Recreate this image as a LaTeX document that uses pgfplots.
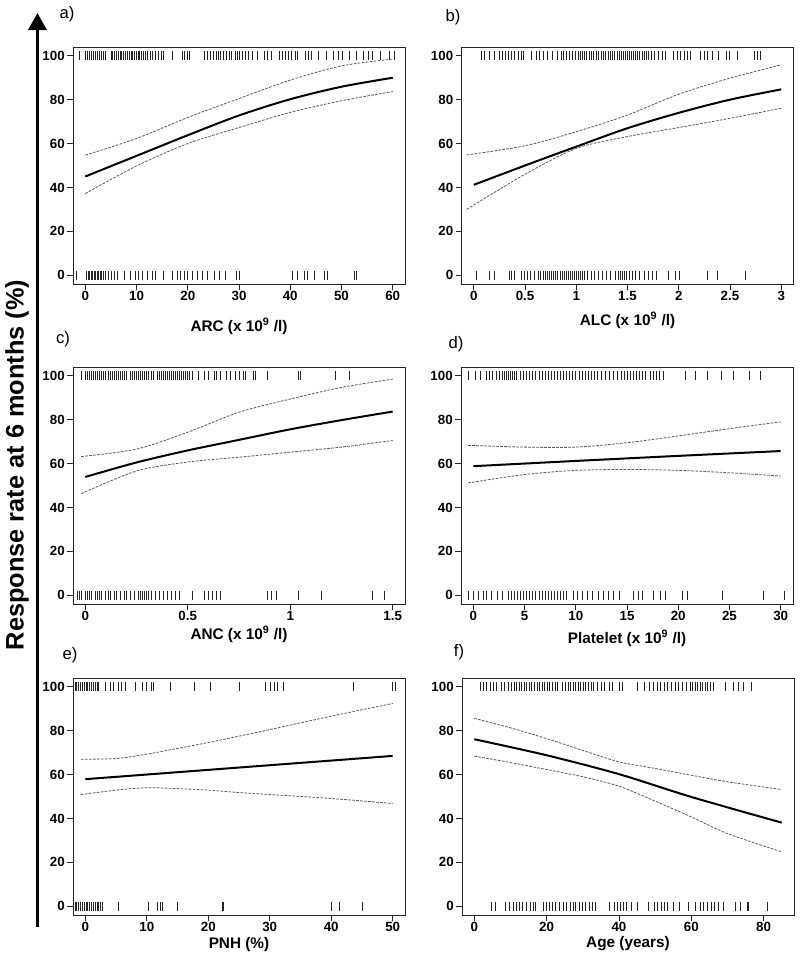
\documentclass[border=0pt]{standalone}
\usepackage{pgfplots}
\pgfplotsset{compat=1.18}
\usepackage{fontspec}
\setmainfont{Liberation Sans}
\usetikzlibrary{arrows.meta}
\pgfplotsset{
  panel/.style={
    scale only axis, width=249pt, height=177.75pt,
    anchor=north west,
    ymin=-4, ymax=104, ytick={0,20,...,100},
    tick align=outside, tick pos=left, major tick length=4.5pt,
    axis line style={line width=0.7pt, black!85},
    every tick/.style={black!85, line width=0.6pt},
    /pgf/number format/assume math mode=true,
    ticklabel style={font=\fontsize{10}{12}\selectfont\bfseries},
    xticklabel style={inner sep=1pt},
    yticklabel style={inner sep=1.5pt},
    xlabel style={font=\fontsize{11.5}{13}\selectfont\bfseries, at={(axis description cs:0.5,0)}, anchor=center, inner sep=0pt},
  },
  fit/.style={black, line width=1.5pt, smooth, no marks},
  ci/.style={black!65, line width=0.6pt, dash pattern=on 2pt off 1pt, smooth, no marks},
  rug/.style={only marks, mark=|, mark size=3.4pt, mark options={line width=0.5pt, black!85}},
}
\begin{document}
\begin{tikzpicture}
\useasboundingbox (0,0) rectangle (600pt,-718.5pt);
% ---------- a) ----------
\begin{axis}[panel, at={(54.75pt,-35.25pt)}, xmin=-2.4, xmax=62.4, xtick={0,10,...,60},
  xlabel={ARC (x 10\textsuperscript{9} /l)}, xlabel style={yshift=-31.5pt}]
\addplot[rug] coordinates {(-1.1,100)(0,100)(0.4,100)(0.8,100)(1.2,100)(1.5,100)(1.9,100)(2.3,100)(2.7,100)(3.1,100)(3.5,100)(3.9,100)(5.0,100)(5.3,100)(5.7,100)(6.0,100)(6.4,100)(6.8,100)(7.1,100)(7.5,100)(7.8,100)(8.2,100)(8.5,100)(8.9,100)(9.2,100)(9.6,100)(9.9,100)(10.3,100)(10.6,100)(11.0,100)(11.3,100)(11.7,100)(12.1,100)(12.6,100)(13.1,100)(13.7,100)(14.2,100)(14.8,100)(15.3,100)(16.9,100)(18.9,100)(19.4,100)(19.9,100)(20.4,100)(23.2,100)(23.9,100)(24.5,100)(25.0,100)(25.5,100)(26.0,100)(26.4,100)(26.9,100)(27.5,100)(28.1,100)(28.6,100)(29.2,100)(29.6,100)(30.1,100)(30.7,100)(31.3,100)(31.9,100)(32.6,100)(33.5,100)(35.0,100)(35.6,100)(36.3,100)(37.9,100)(38.5,100)(39.1,100)(39.6,100)(40.3,100)(40.9,100)(41.4,100)(43.0,100)(43.6,100)(44.2,100)(45.5,100)(47.0,100)(48.5,100)(49.3,100)(50.2,100)(51.5,100)(52.9,100)(54.3,100)(55.3,100)(56.1,100)(57.5,100)(59.3,100)(60.3,100)};
\addplot[rug] coordinates {(-1.8,0)(0.2,0)(0.5,0)(0.8,0)(1.1,0)(1.4,0)(1.7,0)(2.0,0)(2.3,0)(2.6,0)(2.9,0)(3.2,0)(3.6,0)(4.0,0)(4.5,0)(5.0,0)(5.6,0)(6.2,0)(7.7,0)(8.8,0)(9.8,0)(10.4,0)(11.1,0)(12.1,0)(13.1,0)(13.7,0)(15.3,0)(16.9,0)(17.9,0)(18.6,0)(19.3,0)(19.9,0)(20.9,0)(21.9,0)(22.8,0)(23.8,0)(25.1,0)(26.1,0)(27.4,0)(29.4,0)(30.0,0)(40.4,0)(41.4,0)(42.7,0)(43.4,0)(44.7,0)(46.6,0)(47.3,0)(52.5,0)(52.9,0)};
\addplot[ci] coordinates {(0,54.7)(10,62.3)(20,71.9)(30,80.5)(40,88.9)(50,95.4)(60,98.5)};
\addplot[ci] coordinates {(0,37.2)(10,49.8)(20,60)(30,67.3)(40,74.2)(50,79.5)(60,83.7)};
\addplot[fit] coordinates {(0,45)(10,54.4)(20,63.8)(30,72.8)(40,80.2)(50,85.9)(60,90)};
\end{axis}
% ---------- b) ----------
\begin{axis}[panel, at={(346.125pt,-35.25pt)}, xmin=-0.12, xmax=3.12, xtick={0,0.5,...,3},
  xlabel={ALC (x 10\textsuperscript{9} /l)}, xlabel style={yshift=-27pt}]
\addplot[rug] coordinates {(0.07,100)(0.10,100)(0.15,100)(0.2,100)(0.25,100)(0.28,100)(0.31,100)(0.34,100)(0.37,100)(0.40,100)(0.43,100)(0.46,100)(0.48,100)(0.56,100)(0.61,100)(0.64,100)(0.68,100)(0.72,100)(0.77,100)(0.82,100)(0.85,100)(0.87,100)(0.90,100)(0.93,100)(0.96,100)(0.99,100)(1.02,100)(1.04,100)(1.06,100)(1.08,100)(1.10,100)(1.13,100)(1.15,100)(1.17,100)(1.20,100)(1.22,100)(1.24,100)(1.26,100)(1.28,100)(1.31,100)(1.33,100)(1.35,100)(1.37,100)(1.40,100)(1.42,100)(1.44,100)(1.46,100)(1.48,100)(1.50,100)(1.52,100)(1.54,100)(1.56,100)(1.58,100)(1.60,100)(1.62,100)(1.64,100)(1.66,100)(1.68,100)(1.70,100)(1.73,100)(1.76,100)(1.80,100)(1.84,100)(1.87,100)(1.95,100)(1.99,100)(2.02,100)(2.05,100)(2.08,100)(2.11,100)(2.21,100)(2.25,100)(2.28,100)(2.33,100)(2.39,100)(2.46,100)(2.49,100)(2.57,100)(2.74,100)(2.77,100)(2.80,100)};
\addplot[rug] coordinates {(0.02,0)(0.15,0)(0.20,0)(0.35,0)(0.37,0)(0.40,0)(0.46,0)(0.49,0)(0.52,0)(0.55,0)(0.59,0)(0.63,0)(0.65,0)(0.68,0)(0.70,0)(0.72,0)(0.74,0)(0.76,0)(0.78,0)(0.80,0)(0.82,0)(0.84,0)(0.86,0)(0.88,0)(0.90,0)(0.92,0)(0.94,0)(0.96,0)(0.98,0)(1.00,0)(1.02,0)(1.04,0)(1.06,0)(1.08,0)(1.11,0)(1.15,0)(1.18,0)(1.22,0)(1.25,0)(1.29,0)(1.33,0)(1.38,0)(1.41,0)(1.43,0)(1.45,0)(1.47,0)(1.49,0)(1.52,0)(1.55,0)(1.58,0)(1.62,0)(1.66,0)(1.70,0)(1.74,0)(1.78,0)(1.90,0)(1.97,0)(2.01,0)(2.28,0)(2.38,0)(2.65,0)};
\addplot[ci] coordinates {(-0.07,54.8)(0.5,59)(1,65.4)(1.5,73)(2,82.5)(2.5,89.8)(3,95.9)};
\addplot[ci] coordinates {(-0.07,30)(0.5,46)(1,57.8)(1.5,63.2)(2,67.3)(2.5,71.5)(3,76.1)};
\addplot[fit] coordinates {(0,41.2)(0.5,50)(1,58.6)(1.5,67)(2,74)(2.5,80)(3,84.7)};
\end{axis}
% ---------- c) ----------
\begin{axis}[panel, at={(54.75pt,-275.25pt)}, xmin=-0.06, xmax=1.56, xtick={0,0.5,1,1.5},
  xlabel={ANC (x 10\textsuperscript{9} /l)}, xlabel style={yshift=-22.5pt}]
\addplot[rug] coordinates {(-0.02,100)(0.00,100)(0.01,100)(0.02,100)(0.03,100)(0.04,100)(0.05,100)(0.06,100)(0.07,100)(0.08,100)(0.09,100)(0.10,100)(0.11,100)(0.12,100)(0.13,100)(0.14,100)(0.15,100)(0.16,100)(0.17,100)(0.18,100)(0.19,100)(0.20,100)(0.22,100)(0.23,100)(0.24,100)(0.25,100)(0.26,100)(0.27,100)(0.28,100)(0.29,100)(0.30,100)(0.31,100)(0.32,100)(0.33,100)(0.35,100)(0.36,100)(0.37,100)(0.38,100)(0.39,100)(0.40,100)(0.41,100)(0.42,100)(0.43,100)(0.44,100)(0.45,100)(0.46,100)(0.47,100)(0.48,100)(0.49,100)(0.50,100)(0.51,100)(0.52,100)(0.55,100)(0.58,100)(0.60,100)(0.63,100)(0.64,100)(0.66,100)(0.69,100)(0.71,100)(0.73,100)(0.75,100)(0.77,100)(0.78,100)(0.82,100)(0.83,100)(0.89,100)(1.04,100)(1.05,100)(1.22,100)(1.29,100)};
\addplot[rug] coordinates {(-0.04,0)(-0.03,0)(-0.02,0)(0.00,0)(0.01,0)(0.02,0)(0.03,0)(0.05,0)(0.06,0)(0.07,0)(0.08,0)(0.10,0)(0.11,0)(0.12,0)(0.14,0)(0.15,0)(0.17,0)(0.19,0)(0.20,0)(0.22,0)(0.24,0)(0.26,0)(0.27,0)(0.28,0)(0.29,0)(0.30,0)(0.31,0)(0.32,0)(0.34,0)(0.36,0)(0.38,0)(0.40,0)(0.42,0)(0.44,0)(0.46,0)(0.52,0)(0.58,0)(0.60,0)(0.62,0)(0.64,0)(0.66,0)(0.89,0)(0.91,0)(0.93,0)(1.04,0)(1.15,0)(1.40,0)(1.46,0)};
\addplot[ci] coordinates {(-0.02,63.2)(0.25,66.6)(0.5,74.3)(0.75,83.4)(1,89.4)(1.25,94.7)(1.5,98.5)};
\addplot[ci] coordinates {(-0.02,46.3)(0.25,56.6)(0.5,60.7)(0.75,62.9)(1,65.2)(1.25,67.5)(1.5,70.5)};
\addplot[fit] coordinates {(0,53.9)(0.25,60.5)(0.5,66)(0.75,70.8)(1,75.6)(1.25,79.8)(1.5,83.7)};
\end{axis}
% ---------- d) ----------
\begin{axis}[panel, at={(345.75pt,-275.25pt)}, xmin=-1.2, xmax=31.2, xtick={0,5,...,30},
  xlabel={Platelet (x 10\textsuperscript{9} /l)}, xlabel style={yshift=-25.5pt}]
\addplot[rug] coordinates {(-0.5,100)(0.2,100)(0.7,100)(1.3,100)(1.6,100)(1.9,100)(2.2,100)(2.5,100)(2.8,100)(3.0,100)(3.2,100)(3.4,100)(3.6,100)(3.8,100)(4.0,100)(4.2,100)(4.6,100)(4.9,100)(5.2,100)(5.5,100)(5.8,100)(6.1,100)(6.4,100)(6.7,100)(7.0,100)(7.3,100)(7.6,100)(7.9,100)(8.2,100)(8.5,100)(8.8,100)(9.1,100)(9.4,100)(9.7,100)(10.0,100)(10.3,100)(10.6,100)(10.9,100)(11.2,100)(11.5,100)(11.8,100)(12.1,100)(12.5,100)(12.9,100)(13.3,100)(13.7,100)(14.1,100)(14.4,100)(14.7,100)(15.0,100)(15.3,100)(15.6,100)(15.9,100)(16.2,100)(16.5,100)(16.8,100)(17.3,100)(17.6,100)(17.9,100)(18.2,100)(18.5,100)(20.7,100)(21.7,100)(22.8,100)(24.2,100)(25.4,100)(26.9,100)(28.0,100)};
\addplot[rug] coordinates {(-0.5,0)(0.0,0)(0.5,0)(1.0,0)(1.3,0)(1.8,0)(2.3,0)(2.8,0)(3.4,0)(3.7,0)(4.0,0)(4.3,0)(4.6,0)(4.9,0)(5.2,0)(5.5,0)(5.8,0)(6.1,0)(6.4,0)(6.7,0)(7.0,0)(7.3,0)(7.6,0)(7.9,0)(8.2,0)(8.5,0)(8.8,0)(9.1,0)(9.8,0)(10.2,0)(10.6,0)(11.1,0)(11.6,0)(12.2,0)(12.7,0)(13.2,0)(13.7,0)(14.3,0)(15.6,0)(16.1,0)(16.5,0)(17.6,0)(18.3,0)(18.7,0)(20.4,0)(20.9,0)(24.3,0)(28.3,0)(30.4,0)};
\addplot[ci] coordinates {(-0.5,68.3)(5,67.5)(10,67.5)(15,69.5)(20,72.6)(25,75.9)(30,79)};
\addplot[ci] coordinates {(-0.5,51.2)(5,55)(10,56.9)(15,57.3)(20,56.9)(25,55.8)(30,54.3)};
\addplot[fit] coordinates {(0,58.8)(10,61.2)(20,63.5)(30,65.7)};
\end{axis}
% ---------- e) ----------
\begin{axis}[panel, at={(54.75pt,-508.5pt)}, xmin=-2, xmax=52, xtick={0,10,...,50},
  xlabel={PNH (\%)}, xlabel style={yshift=-22.5pt}]
\addplot[rug] coordinates {(-2.0,100)(-1.7,100)(-1.4,100)(-1.1,100)(-0.8,100)(-0.5,100)(-0.2,100)(0.1,100)(0.4,100)(0.7,100)(1.0,100)(1.3,100)(1.6,100)(1.9,100)(2.2,100)(3.3,100)(4.1,100)(4.6,100)(5.4,100)(5.9,100)(6.5,100)(8.2,100)(9.2,100)(10.0,100)(10.8,100)(11.1,100)(13.9,100)(17.7,100)(20.4,100)(25.1,100)(29.3,100)(30.1,100)(30.7,100)(31.2,100)(32.2,100)(43.6,100)(50.0,100)(50.5,100)};
\addplot[rug] coordinates {(-2.0,0)(-1.7,0)(-1.4,0)(-1.1,0)(-0.8,0)(-0.5,0)(-0.2,0)(0.1,0)(0.4,0)(0.7,0)(1.0,0)(1.3,0)(1.6,0)(1.9,0)(2.2,0)(2.4,0)(2.7,0)(5.3,0)(10.3,0)(11.7,0)(12.2,0)(12.6,0)(14.9,0)(22.3,0)(22.4,0)(40.0,0)(41.3,0)(45.0,0)};
\addplot[ci] coordinates {(-0.7,67)(5,67.3)(10,69.3)(15,71.9)(20,74.6)(25,77.5)(30,80.5)(40,86.6)(50,92.4)};
\addplot[ci] coordinates {(-0.7,50.9)(5,52.9)(10,54)(15,53.6)(20,52.9)(25,51.8)(30,50.9)(40,49.1)(50,46.8)};
\addplot[fit] coordinates {(0,57.9)(25,63.2)(50,68.5)};
\end{axis}
% ---------- f) ----------
\begin{axis}[panel, at={(346.5pt,-508.5pt)}, xmin=-3.4, xmax=88.4, xtick={0,20,...,80},
  xlabel={Age (years)}, xlabel style={yshift=-21.75pt}]
\addplot[rug] coordinates {(1.6,100)(2.5,100)(3.4,100)(4.3,100)(5.2,100)(6.0,100)(7.5,100)(8.2,100)(9.5,100)(10.3,100)(11.0,100)(11.7,100)(12.4,100)(13.1,100)(13.8,100)(14.5,100)(15.2,100)(15.9,100)(16.6,100)(17.3,100)(18.0,100)(18.7,100)(19.4,100)(20.1,100)(20.8,100)(21.5,100)(22.3,100)(23.0,100)(24.3,100)(25.2,100)(25.9,100)(26.6,100)(27.3,100)(28.0,100)(28.7,100)(29.4,100)(30.1,100)(30.8,100)(31.5,100)(32.3,100)(33.0,100)(34.0,100)(35.0,100)(36.0,100)(37.3,100)(38.2,100)(40.0,100)(41.0,100)(45.0,100)(47.0,100)(48.5,100)(49.5,100)(50.5,100)(51.5,100)(52.5,100)(53.5,100)(54.5,100)(55.5,100)(56.5,100)(57.5,100)(58.5,100)(59.6,100)(60.3,100)(61.0,100)(61.7,100)(62.4,100)(63.1,100)(63.8,100)(64.5,100)(65.2,100)(66.0,100)(69.3,100)(71.6,100)(73.0,100)(74.4,100)(76.7,100)};
\addplot[rug] coordinates {(4.6,0)(5.8,0)(8.5,0)(9.8,0)(10.8,0)(11.6,0)(12.4,0)(13.2,0)(14.3,0)(15.6,0)(16.3,0)(16.9,0)(19.2,0)(20.0,0)(20.8,0)(21.6,0)(22.4,0)(23.4,0)(24.6,0)(25.5,0)(26.5,0)(27.3,0)(28.0,0)(29.0,0)(29.8,0)(30.8,0)(31.7,0)(32.6,0)(33.6,0)(37.3,0)(38.7,0)(39.6,0)(40.3,0)(41.2,0)(42.0,0)(43.3,0)(45.2,0)(48.0,0)(49.8,0)(50.7,0)(51.6,0)(52.5,0)(53.3,0)(55.0,0)(56.8,0)(59.1,0)(61.0,0)(62.4,0)(63.3,0)(64.5,0)(65.6,0)(66.5,0)(67.5,0)(68.9,0)(72.1,0)(73.5,0)(75.4,0)(75.8,0)(80.9,0)};
\addplot[ci] coordinates {(0,85.6)(10,81.3)(20,76.4)(30,71)(40,65.8)(50,62.8)(60,59.7)(70,56.7)(85,53.2)};
\addplot[ci] coordinates {(0,68.4)(10,65.5)(20,62.3)(30,59)(40,54.7)(50,47.9)(60,40.7)(70,33.1)(85,24.8)};
\addplot[fit] coordinates {(0,76.1)(20,68.8)(40,60.2)(60,49.8)(85,38.1)};
\end{axis}
% ---------- panel letters ----------
\node[font=\fontsize{12.5}{15}\selectfont] at (50.25pt,-10.5pt) {a)};
\node[font=\fontsize{12.5}{15}\selectfont] at (339.75pt,-12.75pt) {b)};
\node[font=\fontsize{12.5}{15}\selectfont] at (47.25pt,-254.25pt) {c)};
\node[font=\fontsize{12.5}{15}\selectfont] at (342pt,-258pt) {d)};
\node[font=\fontsize{12.5}{15}\selectfont] at (52.5pt,-491.25pt) {e)};
\node[font=\fontsize{12.5}{15}\selectfont] at (344.25pt,-489pt) {f)};
% ---------- global y label and arrow ----------
\draw[line width=2.6pt, -{Triangle[length=12.75pt, width=13.5pt]}] (28.1pt,-695.25pt) -- (28.1pt,-9.75pt);
\node[rotate=90, font=\fontsize{19}{23}\selectfont\bfseries] at (12.75pt,-348.75pt) {Response rate at 6 months (\%)};
\end{tikzpicture}
\end{document}
